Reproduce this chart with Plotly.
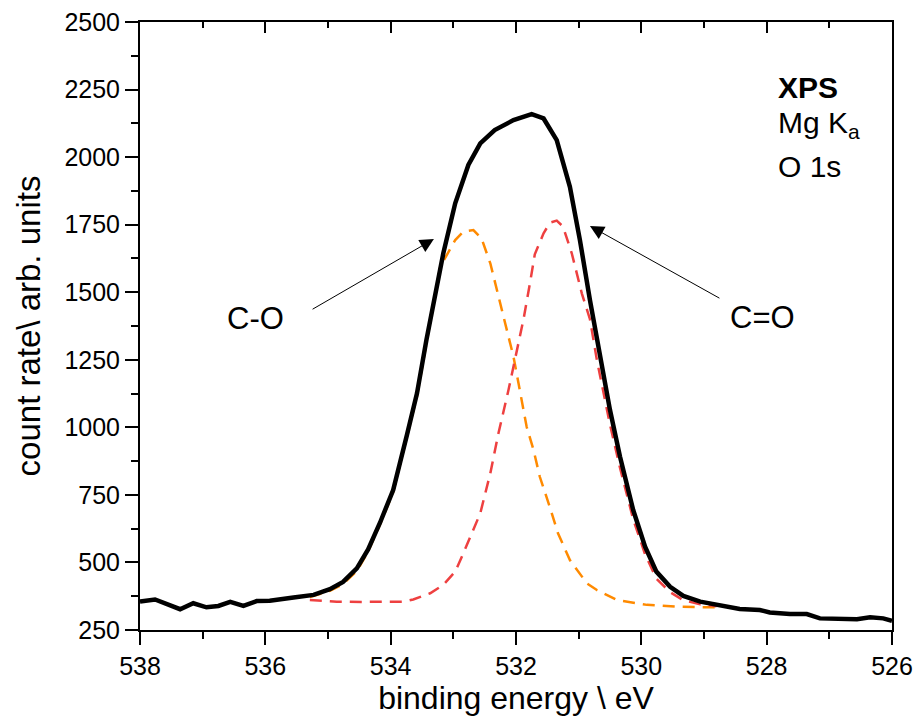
import plotly.graph_objects as go

# ---- data ----
be_total = [538.00, 537.76, 537.36, 537.15, 536.94, 536.75, 536.56, 536.35, 536.14, 535.93,
            535.55, 535.23, 534.97, 534.76, 534.54, 534.36, 534.17, 533.96, 533.74, 533.58,
            533.43, 533.30, 533.16, 532.97, 532.76, 532.57, 532.34, 532.04, 531.75, 531.56,
            531.35, 531.14, 530.98, 530.82, 530.66, 530.50, 530.34, 530.13, 529.94, 529.76,
            529.54, 529.33, 529.06, 528.80, 528.43, 528.11, 527.95, 527.63, 527.36, 527.15,
            526.94, 526.56, 526.35, 526.14, 526.00]
cnt_total = [355, 363, 327, 349, 334, 339, 354, 339, 357, 358,
             370, 380, 401, 428, 478, 548, 647, 768, 972, 1126,
             1323, 1470, 1644, 1829, 1971, 2051, 2100, 2137, 2159, 2143,
             2063, 1890, 1693, 1471, 1261, 1064, 891, 694, 558, 466,
             410, 376, 355, 343, 328, 324, 315, 309, 309, 293,
             293, 290, 297, 293, 284]

be_co = [535.29, 534.97, 534.76, 534.54, 534.36, 534.17, 533.96, 533.74, 533.58, 533.43,
         533.21, 532.97, 532.84, 532.68, 532.55, 532.41, 532.26, 532.18, 532.04, 531.96,
         531.83, 531.72, 531.62, 531.48, 531.33, 531.14, 530.87, 530.71, 530.39, 529.91,
         529.38, 528.96, 528.80]
cnt_co = [372, 395, 420, 468, 540, 640, 760, 962, 1115, 1310,
          1594, 1693, 1724, 1730, 1699, 1607, 1471, 1397, 1261, 1163,
          1002, 916, 817, 719, 608, 509, 423, 398, 361, 343,
          336, 334, 334]

be_c_o2 = [535.29, 534.86, 534.44, 534.12, 533.80, 533.64, 533.37, 533.16, 532.97, 532.84,
           532.73, 532.57, 532.41, 532.28, 532.12, 531.99, 531.88, 531.78, 531.70, 531.56,
           531.46, 531.35, 531.25, 531.11, 530.95, 530.82, 530.71, 530.50, 530.34, 530.13,
           529.94, 529.76, 529.54, 529.33, 529.06, 528.80]
cnt_c_o2 = [361, 355, 354, 354, 355, 363, 386, 417, 466, 534,
            595, 682, 830, 978, 1138, 1274, 1400, 1530, 1640, 1718,
            1757, 1765, 1743, 1644, 1496, 1400, 1250, 1010, 850, 660,
            530, 440, 390, 360, 345, 338]

x_ticks = [538, 536, 534, 532, 530, 528, 526]
y_ticks = [250, 500, 750, 1000, 1250, 1500, 1750, 2000, 2250, 2500]

FONT = "Liberation Sans, Arial, sans-serif"

fig = go.Figure()
fig.add_trace(go.Scatter(x=be_co, y=cnt_co, mode="lines",
                         line=dict(color="#FF8A00", width=2.5, dash="12px,8px"),
                         showlegend=False, hoverinfo="skip"))
fig.add_trace(go.Scatter(x=be_c_o2, y=cnt_c_o2, mode="lines",
                         line=dict(color="#EE4040", width=2.5, dash="12px,8px"),
                         showlegend=False, hoverinfo="skip"))
fig.add_trace(go.Scatter(x=be_total, y=cnt_total, mode="lines",
                         line=dict(color="black", width=4.5),
                         showlegend=False))
# dummy trace to activate the top axis
fig.add_trace(go.Scatter(x=[538, 526], y=[None, None], xaxis="x2", mode="lines",
                         showlegend=False, hoverinfo="skip"))

tickfont = dict(family=FONT, size=25, color="black")

fig.update_layout(
    width=918, height=716, autosize=False,
    margin=dict(l=140, r=26, t=22, b=86, autoexpand=False),
    plot_bgcolor="white", paper_bgcolor="white",
    font=dict(family=FONT, color="black"),
    xaxis=dict(range=[538, 526], tickvals=x_ticks, ticktext=[str(v) for v in x_ticks],
               ticks="outside", ticklen=13, tickwidth=2, tickcolor="black",
               minor=dict(dtick=1, ticks="outside", ticklen=7, tickwidth=2, tickcolor="black"),
               showline=True, linewidth=2, linecolor="black", mirror=True,
               showgrid=False, zeroline=False, tickfont=tickfont, automargin=False,
               title=dict(text="binding energy \\ eV", font=dict(family=FONT, size=32, color="black"),
                          standoff=6)),
    xaxis2=dict(range=[538, 526], overlaying="x", side="top",
                tickvals=x_ticks, showticklabels=False, automargin=False,
                ticks="inside", ticklen=11, tickwidth=2, tickcolor="black",
                minor=dict(dtick=1, ticks="inside", ticklen=6, tickwidth=2, tickcolor="black"),
                showline=False, showgrid=False, zeroline=False),
    yaxis=dict(range=[250, 2500], tickvals=y_ticks, ticktext=[str(v) for v in y_ticks],
               ticks="outside", ticklen=13, tickwidth=2, tickcolor="black",
               minor=dict(dtick=125, ticks="outside", ticklen=7, tickwidth=2, tickcolor="black"),
               showline=True, linewidth=2, linecolor="black", mirror=True,
               showgrid=False, zeroline=False, tickfont=tickfont, automargin=False,
               title=dict(text="count rate\\ arb. units", font=dict(family=FONT, size=33, color="black"),
                          standoff=14)),
)

ann_font = dict(family=FONT, size=30, color="black")
lbl_font = dict(family=FONT, size=31, color="black")
annotations = [
    dict(x=527.85, y=2256, xref="x", yref="y", text="<b>XPS</b>", showarrow=False,
         xanchor="left", yanchor="middle", font=ann_font),
    dict(x=527.85, y=2119, xref="x", yref="y", text="Mg K<sub>a</sub>", showarrow=False,
         xanchor="left", yanchor="middle", font=ann_font),
    dict(x=527.85, y=1965, xref="x", yref="y", text="O 1s", showarrow=False,
         xanchor="left", yanchor="middle", font=ann_font),
    dict(x=536.15, y=1401, xref="x", yref="y", text="C-O", showarrow=False,
         xanchor="center", yanchor="middle", font=lbl_font),
    dict(x=528.07, y=1408, xref="x", yref="y", text="C=O", showarrow=False,
         xanchor="center", yanchor="middle", font=lbl_font),
    dict(x=533.31, y=1697, ax=535.27, ay=1434, xref="x", yref="y", axref="x", ayref="y",
         text="", showarrow=True, arrowhead=2, arrowsize=2.8, arrowwidth=1, arrowcolor="black",
         standoff=0, startstandoff=0),
    dict(x=530.82, y=1745, ax=528.73, ay=1475, xref="x", yref="y", axref="x", ayref="y",
         text="", showarrow=True, arrowhead=2, arrowsize=2.8, arrowwidth=1, arrowcolor="black",
         standoff=0, startstandoff=0),
]
fig.update_layout(annotations=annotations)

fig.write_html("out.html")
